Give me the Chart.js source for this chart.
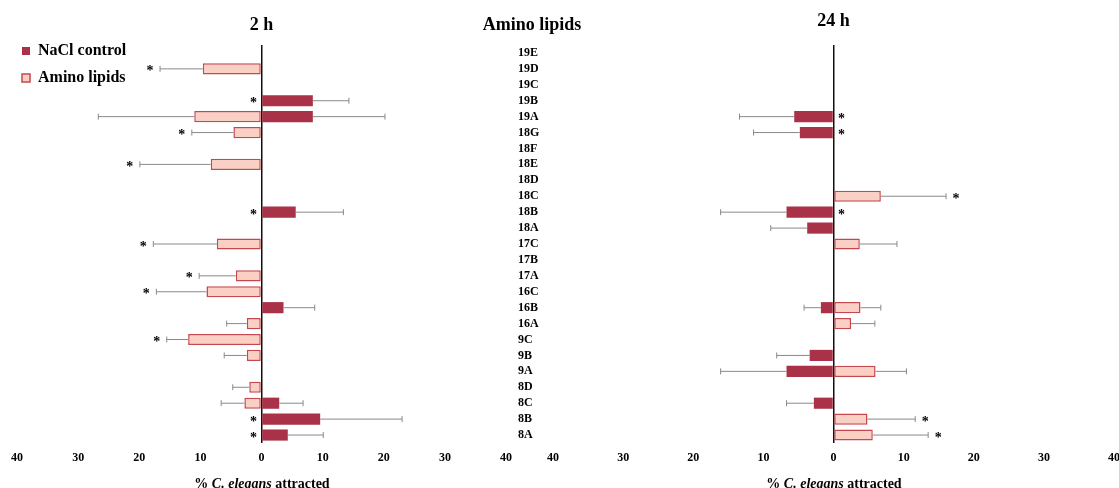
<!DOCTYPE html>
<html>
<head>
<meta charset="utf-8">
<script src="https://cdn.jsdelivr.net/npm/chart.js@4/dist/chart.umd.min.js"></script>
<style>
  html, body { margin: 0; padding: 0; background: #fff; overflow: hidden; }
  #wrap { position: relative; width: 1119px; height: 488px; overflow: hidden; font-family: "Liberation Serif", "DejaVu Serif", serif; }
  canvas { position: absolute; top: 0; }
  #c2h { left: 0; }
  #c24h { left: 512px; }
  .ttl { position: absolute; font-weight: bold; color: #000; white-space: nowrap; transform: translateX(-50%); }
  #midTitle { left: 532px; top: 13px; font-size: 18px; line-height: 22px; }
  .xt { top: 476px; font-size: 14px; line-height: 16px; }
</style>
</head>
<body>
<div id="wrap">
  <canvas id="c2h" width="520" height="488"></canvas>
  <canvas id="c24h" width="628" height="488"></canvas>
  <div id="midTitle" class="ttl">Amino lipids</div>
  <div class="ttl xt" style="left:262px">% <i>C. elegans</i> attracted</div>
  <div class="ttl xt" style="left:834px">% <i>C. elegans</i> attracted</div>
</div>
<script>
// ---------- data ----------
const categories = ['19E','19D','19C','19B','19A','18G','18F','18E','18D','18C','18B','18A','17C','17B','17A','16C','16B','16A','9C','9B','9A','8D','8C','8B','8A'];
const seriesNames = ['NaCl control', 'Amino lipids'];
const panelTitles = ['2 h', '24 h'];
const xTicks = [-40, -30, -20, -10, 0, 10, 20, 30, 40];

// 2 h
const nacl2h     = [null,null,null,8.4,8.4,null,null,null,null,null,5.6,null,null,null,null,null,3.6,null,null,null,null,null,2.9,9.6,4.3];
const nacl2hErr  = [null,null,null,5.9,11.8,null,null,null,null,null,7.8,null,null,null,null,null,5.1,null,null,null,null,null,3.9,13.4,5.8];
const nacl2hSig  = [0,0,0,1,0,0,0,0,0,0,1,0,0,0,0,0,0,0,0,0,0,0,0,1,1];
const amino2h    = [null,-9.6,null,null,-11.0,-4.6,null,-8.3,null,null,null,null,-7.3,null,-4.2,-9.0,null,-2.4,-12.0,-2.4,null,-2.0,-2.8,null,null];
const amino2hErr = [null,7.0,null,null,15.7,6.8,null,11.6,null,null,null,null,10.4,null,6.0,8.2,null,3.3,3.5,3.7,null,2.7,3.8,null,null];
const amino2hSig = [0,1,0,0,0,1,0,1,0,0,0,0,1,0,1,1,0,0,1,0,0,0,0,0,0];

// 24 h
const nacl24h     = [null,null,null,null,-5.6,-4.8,null,null,null,null,-6.7,-3.75,null,null,null,null,-1.8,null,null,-3.4,-6.7,null,-2.8,null,null];
const nacl24hErr  = [null,null,null,null,7.8,6.6,null,null,null,null,9.4,5.2,null,null,null,null,2.4,null,null,4.7,9.4,null,3.9,null,null];
const nacl24hSig  = [0,0,0,0,1,1,0,0,0,0,1,0,0,0,0,0,0,0,0,0,0,0,0,0,0];
const amino24h    = [null,null,null,null,null,null,null,null,null,6.75,null,null,3.75,null,null,null,3.85,2.5,null,null,6.0,null,null,4.85,5.6];
const amino24hErr = [null,null,null,null,null,null,null,null,null,9.3,null,null,5.3,null,null,null,2.9,3.4,null,null,4.4,null,null,6.8,7.9];
const amino24hSig = [0,0,0,0,0,0,0,0,0,1,0,0,0,0,0,0,0,0,0,0,0,0,0,1,1];

// ---------- styles ----------
const NACL_COLOR = '#A93248';
const AMINO_FILL = '#F9D0C3';
const AMINO_BORDER = '#C5474F';
const ERR_COLOR = '#8a8a8a';
const SERIF = '"Liberation Serif", "DejaVu Serif", serif';

const errorStarPlugin = {
  id: 'errorStars',
  afterDatasetsDraw(chart) {
    const ctx = chart.ctx;
    const xs = chart.scales.x;
    const zero = xs.getPixelForValue(0);
    chart.data.datasets.forEach((ds, di) => {
      const meta = chart.getDatasetMeta(di);
      meta.data.forEach((el, i) => {
        const v = ds.data[i];
        if (v === null || v === undefined) return;
        const sign = v < 0 ? -1 : 1;
        const e = ds.errors ? ds.errors[i] : null;
        let endX = el.x;
        if (e) {
          endX = xs.getPixelForValue(v + sign * e);
          ctx.save();
          ctx.strokeStyle = ERR_COLOR;
          ctx.lineWidth = 1;
          ctx.beginPath();
          ctx.moveTo(el.x, el.y);
          ctx.lineTo(endX, el.y);
          ctx.moveTo(endX, el.y - 3);
          ctx.lineTo(endX, el.y + 3);
          ctx.stroke();
          ctx.restore();
        }
        if (ds.sig && ds.sig[i]) {
          let sx;
          if (ds.starMode === 'axis') sx = zero - sign * 8;
          else sx = endX + sign * 10;
          ctx.save();
          ctx.fillStyle = '#000';
          ctx.font = 'bold 14px ' + SERIF;
          ctx.textAlign = 'center';
          ctx.textBaseline = 'middle';
          ctx.fillText('*', sx, el.y + 3);
          ctx.restore();
        }
      });
    });
  }
};

const legendShift = {
  id: 'legendShift',
  afterLayout(chart) {
    if (chart.legend && chart.options.plugins.legend.display) {
      chart.legend.left -= 6;
      chart.legend.top += 32;
    }
  }
};

function makeDatasets(nacl, naclErr, naclSig, amino, aminoErr, aminoSig, naclStar, aminoStar) {
  return [
    {
      label: seriesNames[0], data: nacl, errors: naclErr, sig: naclSig, starMode: naclStar,
      backgroundColor: NACL_COLOR, borderColor: NACL_COLOR, borderWidth: 0,
      grouped: false, categoryPercentage: 1, barPercentage: 0.7
    },
    {
      label: seriesNames[1], data: amino, errors: aminoErr, sig: aminoSig, starMode: aminoStar,
      backgroundColor: AMINO_FILL, borderColor: AMINO_BORDER, borderWidth: 1.5, borderSkipped: false,
      grouped: false, categoryPercentage: 1, barPercentage: 0.7
    }
  ];
}

function xScale() {
  return {
    type: 'linear', min: xTicks[0], max: xTicks[xTicks.length - 1],
    afterBuildTicks(scale) { scale.ticks = xTicks.map(v => ({ value: v })); },
    ticks: {
      callback: v => Math.abs(v),
      font: { family: SERIF, size: 12, weight: 'bold' }, color: '#000', padding: 8
    },
    grid: {
      drawTicks: false,
      color: c => (c.tick && c.tick.value === 0) ? '#111' : 'rgba(0,0,0,0)',
      lineWidth: c => (c.tick && c.tick.value === 0) ? 1.5 : 0
    },
    border: { display: false }
  };
}

Chart.defaults.font.family = SERIF;

new Chart(document.getElementById('c2h'), {
  type: 'bar',
  data: { labels: categories, datasets: makeDatasets(nacl2h, nacl2hErr, nacl2hSig, amino2h, amino2hErr, amino2hSig, 'axis', 'end') },
  options: {
    indexAxis: 'y', responsive: false, animation: false, devicePixelRatio: 1,
    layout: { padding: { left: 17, right: 13, top: 0, bottom: 14.6 } },
    scales: {
      x: xScale(),
      y: { type: 'category', display: false }
    },
    plugins: {
      title: { display: true, text: panelTitles[0], fullSize: false, color: '#000',
               font: { family: SERIF, size: 18, weight: 'bold' }, padding: { top: 15, bottom: 8.4 } },
      legend: {
        display: true, position: 'chartArea', align: 'start',
        labels: { boxWidth: 8, boxHeight: 8, padding: 11, color: '#000',
                  font: { family: SERIF, size: 16, weight: 'bold' } }
      },
      tooltip: { enabled: false }
    }
  },
  plugins: [errorStarPlugin, legendShift]
});

new Chart(document.getElementById('c24h'), {
  type: 'bar',
  data: { labels: categories, datasets: makeDatasets(nacl24h, nacl24hErr, nacl24hSig, amino24h, amino24hErr, amino24hSig, 'axis', 'end') },
  options: {
    indexAxis: 'y', responsive: false, animation: false, devicePixelRatio: 1,
    layout: { padding: { left: 6, right: 26, top: 0, bottom: 14.6 } },
    scales: {
      x: xScale(),
      y: {
        type: 'category', position: 'left',
        afterFit(scale) { scale.width = 35; },
        ticks: { crossAlign: 'far', color: '#000', autoSkip: false,
                 font: { family: SERIF, size: 12, weight: 'bold' } },
        grid: { display: false, drawTicks: false },
        border: { display: false }
      }
    },
    plugins: {
      title: { display: true, text: panelTitles[1], fullSize: false, color: '#000',
               font: { family: SERIF, size: 18, weight: 'bold' }, padding: { top: 11, bottom: 12.4 } },
      legend: { display: false },
      tooltip: { enabled: false }
    }
  },
  plugins: [errorStarPlugin, legendShift]
});
</script>
</body>
</html>
